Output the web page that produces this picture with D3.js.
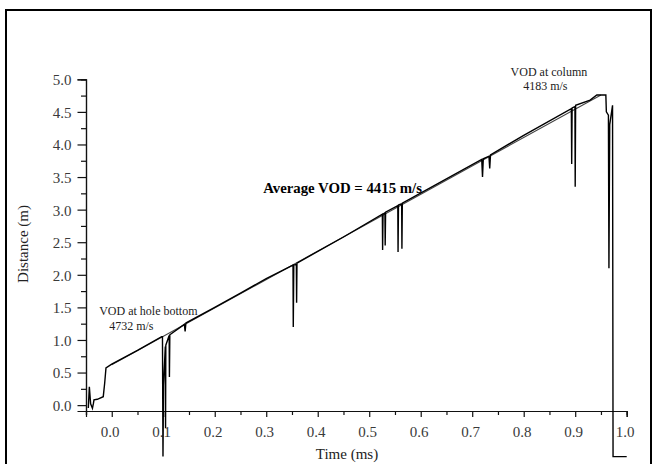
<!DOCTYPE html>
<html>
<head>
<meta charset="utf-8">
<script src="https://cdn.jsdelivr.net/npm/d3@7/dist/d3.min.js"></script>
<style>
  html, body { margin: 0; padding: 0; background: #fff; }
  svg { display: block; }
  text { font-family: "Liberation Serif", "DejaVu Serif", serif; }
</style>
</head>
<body>
<svg id="chart" width="657" height="464"></svg>
<script>
// ---- data ----
const traceTime = [
  -0.0455, -0.0435, -0.041, -0.0375, -0.0355, -0.0345, -0.028, -0.0165, -0.0137, -0.0112,
  0.0, 0.05, 0.097, 0.0985, 0.0995, 0.1005, 0.104, 0.1045, 0.105, 0.1115, 0.112, 0.1128,
  0.141, 0.1425, 0.144, 0.2, 0.25, 0.3, 0.352, 0.3525, 0.3535, 0.3585, 0.359, 0.3597,
  0.45, 0.5255, 0.526, 0.5268, 0.5305, 0.531, 0.5318, 0.5555, 0.556, 0.5568, 0.563, 0.5635, 0.5643,
  0.62, 0.7185, 0.72, 0.7215, 0.7325, 0.734, 0.7355, 0.8, 0.8925, 0.8932, 0.894, 0.8995, 0.9, 0.9008,
  0.929, 0.942, 0.9595, 0.9605, 0.9645, 0.9655, 0.967, 0.9725, 0.9735, 1.0
];
const traceDist = [
  -0.045, 0.28, 0.02, -0.05, 0.03, 0.08, 0.09, 0.13, 0.34, 0.57,
  0.63, 0.84, 1.05, 1.05, -0.79, 0.3, 0.9, -0.35, 0.92, 1.07, 0.43, 1.08,
  1.24, 1.13, 1.26, 1.5, 1.72, 1.94, 2.15, 1.2, 2.15, 2.16, 1.57, 2.18,
  2.58, 2.93, 2.38, 2.93, 2.95, 2.45, 2.96, 3.06, 2.35, 3.07, 3.09, 2.4, 3.1,
  3.34, 3.77, 3.5, 3.78, 3.82, 3.63, 3.84, 4.14, 4.55, 3.7, 4.56, 4.58, 3.35, 4.6,
  4.68, 4.76, 4.76, 4.5, 4.45, 2.1, 4.3, 4.6, -0.79, -0.79
];
const fitTime = [0.0, 0.95];
const fitDist = [0.62, 4.76];

const xMajorTicks = [0.0, 0.1, 0.2, 0.3, 0.4, 0.5, 0.6, 0.7, 0.8, 0.9, 1.0];
const xTickLabels = ["0.0", "0.1", "0.2", "0.3", "0.4", "0.5", "0.6", "0.7", "0.8", "0.9", "1.0"];
const xMinorTicks = [-0.05, 0.05, 0.15, 0.25, 0.35, 0.45, 0.55, 0.65, 0.75, 0.85, 0.95];
const yMajorTicks = [0.0, 0.5, 1.0, 1.5, 2.0, 2.5, 3.0, 3.5, 4.0, 4.5, 5.0];
const yTickLabels = ["0.0", "0.5", "1.0", "1.5", "2.0", "2.5", "3.0", "3.5", "4.0", "4.5", "5.0"];
const yMinorTicks = [0.25, 0.75, 1.25, 1.75, 2.25, 2.75, 3.25, 3.75, 4.25, 4.75];

const xTitle = "Time (ms)";
const yTitle = "Distance (m)";
const annotations = [
  { text: "VOD at hole bottom", t: 0.071, d: 1.39 },
  { text: "4732 m/s", t: 0.038, d: 1.15 },
  { text: "VOD at column", t: 0.849, d: 5.05 },
  { text: "4183 m/s", t: 0.842, d: 4.83 }
];
const avgLabel = { text: "Average VOD = 4415 m/s", t: 0.294, d: 3.255 };

// ---- layout ----
const svg = d3.select("#chart");
const x = d3.scaleLinear().domain([-0.05, 1.0]).range([86, 626.7]);
const y = d3.scaleLinear().domain([-0.09, 5.0]).range([411, 79.3]);

// outer frame
svg.append("rect")
  .attr("x", 6).attr("y", 10).attr("width", 645).attr("height", 470)
  .attr("fill", "none").attr("stroke", "#000").attr("stroke-width", 2);

// axes
const xAxisMajor = d3.axisBottom(x).tickValues(xMajorTicks).tickSize(6)
  .tickFormat((d, i) => xTickLabels[i]).tickPadding(9);
const xAxisMinor = d3.axisBottom(x).tickValues(xMinorTicks).tickSize(4).tickFormat("");
const yAxisMajor = d3.axisLeft(y).tickValues(yMajorTicks).tickSize(8.5)
  .tickFormat((d, i) => yTickLabels[i]).tickPadding(6);
const yAxisMinor = d3.axisLeft(y).tickValues(yMinorTicks).tickSize(5).tickFormat("");

function styleAxis(g) {
  g.select(".domain").attr("stroke", "#111").attr("stroke-width", 1.2);
  g.selectAll(".tick line").attr("stroke", "#111").attr("stroke-width", 1.2);
  g.selectAll(".tick text").attr("fill", "#3a3a3a")
    .style("font-family", "'Liberation Serif', serif").style("font-size", "15px");
}

const gx = svg.append("g").attr("transform", "translate(0,411)").call(xAxisMajor).call(styleAxis);
svg.append("g").attr("transform", "translate(0,411)").call(xAxisMinor).call(styleAxis);
gx.selectAll(".tick text").attr("dx", "-2");
const gy = svg.append("g").attr("transform", "translate(86,0)").call(yAxisMajor).call(styleAxis);
svg.append("g").attr("transform", "translate(86,0)").call(yAxisMinor).call(styleAxis);
gy.selectAll(".tick text").attr("dy", "0.36em");

// axis titles
svg.append("text").attr("x", 347).attr("y", 459).attr("text-anchor", "middle")
  .attr("fill", "#222").style("font-size", "15px").text(xTitle);
svg.append("text").attr("transform", "translate(28,244) rotate(-90)").attr("text-anchor", "middle")
  .attr("fill", "#222").style("font-size", "15px").text(yTitle);

// fit line
const fitPts = fitTime.map((t, i) => [t, fitDist[i]]);
const line = d3.line().x(d => x(d[0])).y(d => y(d[1]));
svg.append("path").attr("d", line(fitPts)).attr("fill", "none")
  .attr("stroke", "#444").attr("stroke-width", 1.1);

// trace
const tracePts = traceTime.map((t, i) => [t, traceDist[i]]);
svg.append("path").attr("d", line(tracePts)).attr("fill", "none")
  .attr("stroke", "#000").attr("stroke-width", 1.4).attr("stroke-linejoin", "miter");

// annotations
svg.selectAll("text.ann").data(annotations).enter().append("text")
  .attr("class", "ann")
  .attr("x", d => x(d.t)).attr("y", d => y(d.d)).attr("text-anchor", "middle")
  .attr("fill", "#222").style("font-size", "12px").text(d => d.text);

svg.append("text").attr("x", x(avgLabel.t)).attr("y", y(avgLabel.d))
  .attr("fill", "#000").style("font-size", "14.8px").style("font-weight", "bold")
  .text(avgLabel.text);
</script>
</body>
</html>
